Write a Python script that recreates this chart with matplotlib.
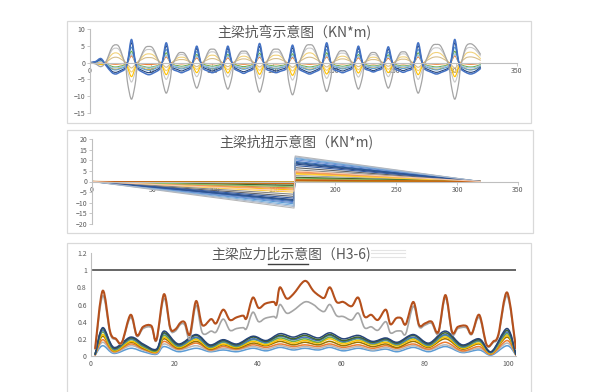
import numpy as np
import matplotlib
matplotlib.use("Agg")
import matplotlib.pyplot as plt
from matplotlib.path import Path
from matplotlib.patches import PathPatch, Rectangle
from matplotlib.lines import Line2D

plt.rcParams["font.family"] = ["Noto Sans CJK SC", "DejaVu Sans"]

# ---------------- bending moment (KN*m) ----------------
# stations: start, then per support [S-5, S-3, S, S+3, S+5] + span [Q1, M, Q2]
bend_x = [0, 4.5, 9, 13, 17.8, 21, 24.2,
          29, 31, 34, 37, 39, 44.5, 48.25, 52,
          57.5, 59.5, 62.5, 65.5, 67.5, 72, 75, 78,
          82.5, 84.5, 87.5, 90.5, 92.5, 97.2, 100.25, 103.3,
          108, 110, 113, 116, 118, 122.8, 126, 129.2,
          134, 136, 139, 142, 144, 149.1, 152.5, 155.9,
          161, 163, 166, 169, 171, 176.4, 180, 183.6,
          189, 191, 194, 197, 199, 203.8, 207, 210.2,
          215, 217, 220, 223, 225, 229.4, 232.25, 235.1,
          239.5, 241.5, 244.5, 247.5, 249.5, 253.9, 256.75, 259.6,
          264, 266, 269, 272, 274, 280, 284, 288,
          294, 296, 299, 302, 304, 308, 312, 316, 320]

bend_gray = [0, -0.4, -1.2, 0.2, 4.4, 5.3, 4.4,
             -1.0, -6.5, -10.9, -6.5, -1.0, 4.0, 4.8, 4.0,
             -1.0, -5.5, -9.1, -5.5, -1.0, 2.5, 3.0, 2.5,
             -0.8, -4.6, -7.6, -4.6, -0.8, 3.4, 4.0, 3.4,
             -0.8, -4.8, -7.9, -4.8, -0.8, 2.9, 3.4, 2.9,
             -1.0, -5.3, -8.8, -5.3, -1.0, 3.4, 4.0, 3.4,
             -1.0, -5.8, -9.6, -5.8, -1.0, 4.5, 5.3, 4.5,
             -1.0, -5.2, -8.6, -5.2, -1.0, 3.0, 3.5, 3.0,
             -0.8, -4.8, -7.9, -4.8, -0.8, 2.5, 3.0, 2.5,
             -0.8, -4.6, -7.6, -4.6, -0.8, 2.7, 3.2, 2.7,
             -1.0, -5.5, -9.1, -5.5, -1.0, 4.6, 5.4, 4.6,
             -1.0, -6.5, -10.9, -6.5, -1.0, 4.6, 5.6, 4.6, 2.5]

bend_ltgray = [0, -0.2, -0.6, 0.2, 3.6, 4.3, 3.6,
               -0.4, -2.9, -5.8, -2.9, -0.4, 3.3, 3.9, 3.3,
               -0.4, -2.5, -5.0, -2.5, -0.4, 2.0, 2.4, 2.0,
               -0.3, -2.1, -4.2, -2.1, -0.3, 2.7, 3.2, 2.7,
               -0.3, -2.2, -4.3, -2.2, -0.3, 2.4, 2.8, 2.4,
               -0.4, -2.4, -4.8, -2.4, -0.4, 2.7, 3.2, 2.7,
               -0.4, -2.6, -5.2, -2.6, -0.4, 3.6, 4.3, 3.6,
               -0.4, -2.4, -4.7, -2.4, -0.4, 2.4, 2.8, 2.4,
               -0.3, -2.2, -4.3, -2.2, -0.3, 2.0, 2.4, 2.0,
               -0.3, -2.1, -4.2, -2.1, -0.3, 2.2, 2.6, 2.2,
               -0.4, -2.5, -5.0, -2.5, -0.4, 3.7, 4.4, 3.7,
               -0.4, -2.9, -5.8, -2.9, -0.4, 3.8, 4.5, 3.8, 2.0]

bend_gold = [0, 0, -0.3, 0.2, 2.4, 2.9, 2.4,
             0.1, -1.1, -2.8, -1.1, 0.1, 2.2, 2.6, 2.2,
             0.1, -1.0, -2.4, -1.0, 0.1, 1.4, 1.6, 1.4,
             0.1, -0.8, -2.0, -0.8, 0.1, 1.9, 2.2, 1.9,
             0.1, -0.8, -2.1, -0.8, 0.1, 1.6, 1.9, 1.6,
             0.1, -0.9, -2.3, -0.9, 0.1, 1.9, 2.2, 1.9,
             0.1, -1.0, -2.5, -1.0, 0.1, 2.4, 2.9, 2.4,
             0.1, -0.9, -2.3, -0.9, 0.1, 1.6, 1.9, 1.6,
             0.1, -0.8, -2.1, -0.8, 0.1, 1.4, 1.6, 1.4,
             0.1, -0.8, -2.0, -0.8, 0.1, 1.5, 1.7, 1.5,
             0.1, -1.0, -2.4, -1.0, 0.1, 2.5, 3.0, 2.5,
             0.1, -1.1, -2.8, -1.1, 0.1, 2.6, 3.1, 2.6, 1.2]

bend_tan = [0, 0, -0.2, 0.1, 1.3, 1.6, 1.3,
            0.1, -0.6, -1.6, -0.6, 0.1, 1.3, 1.5, 1.3,
            0.1, -0.5, -1.4, -0.5, 0.1, 0.8, 0.9, 0.8,
            0.1, -0.5, -1.2, -0.5, 0.1, 1.0, 1.2, 1.0,
            0.1, -0.5, -1.2, -0.5, 0.1, 0.9, 1.1, 0.9,
            0.1, -0.5, -1.3, -0.5, 0.1, 1.0, 1.2, 1.0,
            0.1, -0.6, -1.4, -0.6, 0.1, 1.3, 1.6, 1.3,
            0.1, -0.5, -1.3, -0.5, 0.1, 0.9, 1.1, 0.9,
            0.1, -0.5, -1.2, -0.5, 0.1, 0.8, 0.9, 0.8,
            0.1, -0.4, -1.1, -0.4, 0.1, 0.9, 1.0, 0.9,
            0.1, -0.6, -1.4, -0.6, 0.1, 1.4, 1.7, 1.4,
            0.1, -0.6, -1.6, -0.6, 0.1, 1.4, 1.7, 1.4, 0.7]

bend_yellow = [0, -0.2, -0.6, -0.6, -1.7, -2.0, -1.7,
               -0.5, -1.7, -4.2, -1.7, -0.5, -1.8, -2.1, -1.8,
               -0.5, -1.4, -3.6, -1.4, -0.5, -1.4, -1.6, -1.4,
               -0.4, -1.2, -3.0, -1.2, -0.4, -1.5, -1.8, -1.5,
               -0.4, -1.2, -3.1, -1.2, -0.4, -1.4, -1.7, -1.4,
               -0.5, -1.4, -3.5, -1.4, -0.5, -1.5, -1.8, -1.5,
               -0.5, -1.5, -3.8, -1.5, -0.5, -1.7, -2.0, -1.7,
               -0.5, -1.4, -3.4, -1.4, -0.5, -1.4, -1.7, -1.4,
               -0.4, -1.2, -3.1, -1.2, -0.4, -1.4, -1.6, -1.4,
               -0.4, -1.2, -3.0, -1.2, -0.4, -1.4, -1.6, -1.4,
               -0.5, -1.4, -3.6, -1.4, -0.5, -1.7, -2.0, -1.7,
               -0.5, -1.7, -4.2, -1.7, -0.5, -1.8, -2.1, -1.8, -1.0]

bend_orange = [0, 0.1, 0.3, -0.1, -0.4, -0.5, -0.4,
               -0.2, 0.2, 2.0, 0.2, -0.2, -0.5, -0.6, -0.5,
               -0.2, 0.2, 1.7, 0.2, -0.2, -0.3, -0.4, -0.3,
               -0.2, 0.1, 1.4, 0.1, -0.2, -0.3, -0.4, -0.3,
               -0.2, 0.1, 1.4, 0.1, -0.2, -0.4, -0.5, -0.4,
               -0.2, 0.2, 1.6, 0.2, -0.2, -0.3, -0.4, -0.3,
               -0.2, 0.1, 1.5, 0.1, -0.2, -0.4, -0.5, -0.4,
               -0.2, 0.2, 1.7, 0.2, -0.2, -0.3, -0.4, -0.3,
               -0.2, 0.1, 1.4, 0.1, -0.2, -0.3, -0.4, -0.3,
               -0.2, 0.1, 1.3, 0.1, -0.2, -0.3, -0.4, -0.3,
               -0.2, 0.2, 1.7, 0.2, -0.2, -0.4, -0.5, -0.4,
               -0.2, 0.2, 2.0, 0.2, -0.2, -0.4, -0.5, -0.4, -0.2]

bend_green = [0, 0.1, 0.5, -0.3, -1.1, -1.3, -1.1,
              -0.6, 0.3, 3.4, 0.3, -0.6, -1.2, -1.4, -1.2,
              -0.6, 0.3, 2.9, 0.3, -0.6, -0.9, -1.1, -0.9,
              -0.5, 0.2, 2.4, 0.2, -0.5, -0.9, -1.1, -0.9,
              -0.5, 0.2, 2.4, 0.2, -0.5, -1.0, -1.2, -1.0,
              -0.6, 0.3, 2.8, 0.3, -0.6, -0.9, -1.1, -0.9,
              -0.6, 0.2, 2.6, 0.2, -0.6, -1.1, -1.3, -1.1,
              -0.6, 0.3, 2.9, 0.3, -0.6, -0.9, -1.1, -0.9,
              -0.5, 0.2, 2.4, 0.2, -0.5, -0.9, -1.0, -0.9,
              -0.5, 0.2, 2.3, 0.2, -0.5, -0.9, -1.0, -0.9,
              -0.6, 0.3, 2.9, 0.3, -0.6, -1.1, -1.3, -1.1,
              -0.6, 0.3, 3.4, 0.3, -0.6, -1.1, -1.3, -1.1, -0.6]

bend_paleblue = [0, 0.1, 0.4, -0.4, -1.4, -1.6, -1.4,
                 -0.8, 0.2, 2.6, 0.2, -0.8, -1.4, -1.7, -1.4,
                 -0.7, 0.2, 2.2, 0.2, -0.7, -1.2, -1.4, -1.2,
                 -0.7, 0.2, 1.9, 0.2, -0.7, -1.2, -1.4, -1.2,
                 -0.7, 0.2, 1.9, 0.2, -0.7, -1.3, -1.5, -1.3,
                 -0.7, 0.2, 2.1, 0.2, -0.7, -1.2, -1.4, -1.2,
                 -0.7, 0.2, 2.0, 0.2, -0.7, -1.4, -1.6, -1.4,
                 -0.7, 0.2, 2.2, 0.2, -0.7, -1.2, -1.4, -1.2,
                 -0.7, 0.2, 1.9, 0.2, -0.7, -1.1, -1.3, -1.1,
                 -0.7, 0.2, 1.8, 0.2, -0.7, -1.1, -1.3, -1.1,
                 -0.7, 0.2, 2.2, 0.2, -0.7, -1.4, -1.6, -1.4,
                 -0.8, 0.2, 2.6, 0.2, -0.8, -1.4, -1.6, -1.4, -0.8]

bend_ltblue = [0, 0.2, 0.7, -0.5, -1.9, -2.2, -1.9,
               -1.1, 0.4, 4.6, 0.4, -1.1, -2.0, -2.3, -2.0,
               -1.0, 0.4, 3.9, 0.4, -1.0, -1.6, -1.9, -1.6,
               -1.0, 0.3, 3.3, 0.3, -1.0, -1.6, -1.9, -1.6,
               -1.0, 0.3, 3.3, 0.3, -1.0, -1.7, -2.0, -1.7,
               -1.0, 0.4, 3.8, 0.4, -1.0, -1.6, -1.9, -1.6,
               -1.0, 0.3, 3.5, 0.3, -1.0, -1.9, -2.2, -1.9,
               -1.0, 0.4, 3.9, 0.4, -1.0, -1.6, -1.9, -1.6,
               -1.0, 0.3, 3.3, 0.3, -1.0, -1.5, -1.8, -1.5,
               -1.0, 0.3, 3.1, 0.3, -1.0, -1.5, -1.8, -1.5,
               -1.0, 0.4, 3.9, 0.4, -1.0, -1.9, -2.2, -1.9,
               -1.1, 0.4, 4.6, 0.4, -1.1, -1.9, -2.2, -1.9, -1.1]

bend_navy = [0, 0.2, 0.9, -0.6, -2.5, -2.9, -2.5,
             -1.5, 0.5, 5.9, 0.5, -1.5, -2.6, -3.0, -2.6,
             -1.4, 0.5, 5.0, 0.5, -1.4, -2.1, -2.5, -2.1,
             -1.3, 0.4, 4.2, 0.4, -1.3, -2.1, -2.5, -2.1,
             -1.3, 0.4, 4.2, 0.4, -1.3, -2.3, -2.7, -2.3,
             -1.4, 0.5, 4.8, 0.5, -1.4, -2.1, -2.5, -2.1,
             -1.4, 0.4, 4.4, 0.4, -1.4, -2.5, -2.9, -2.5,
             -1.4, 0.5, 5.0, 0.5, -1.4, -2.1, -2.5, -2.1,
             -1.3, 0.4, 4.2, 0.4, -1.3, -2.0, -2.4, -2.0,
             -1.3, 0.4, 4.0, 0.4, -1.3, -2.0, -2.4, -2.0,
             -1.4, 0.5, 5.0, 0.5, -1.4, -2.5, -2.9, -2.5,
             -1.5, 0.5, 5.9, 0.5, -1.5, -2.5, -2.9, -2.5, -1.4]

bend_blue = [0, 0.3, 1.2, -0.8, -2.9, -3.4, -2.9,
             -1.8, 0.6, 6.9, 0.6, -1.8, -3.1, -3.6, -3.1,
             -1.8, 0.6, 5.9, 0.6, -1.8, -2.6, -3.0, -2.6,
             -1.7, 0.5, 4.9, 0.5, -1.7, -2.6, -3.0, -2.6,
             -1.7, 0.5, 4.9, 0.5, -1.7, -2.7, -3.2, -2.7,
             -1.8, 0.6, 5.7, 0.6, -1.8, -2.6, -3.0, -2.6,
             -1.8, 0.5, 5.2, 0.5, -1.8, -2.9, -3.4, -2.9,
             -1.8, 0.6, 5.9, 0.6, -1.8, -2.6, -3.0, -2.6,
             -1.7, 0.5, 4.9, 0.5, -1.7, -2.4, -2.8, -2.4,
             -1.7, 0.5, 4.7, 0.5, -1.7, -2.5, -2.9, -2.5,
             -1.8, 0.6, 5.9, 0.6, -1.8, -2.9, -3.4, -2.9,
             -1.8, 0.6, 6.9, 0.6, -1.8, -2.9, -3.4, -2.9, -1.8]

bend_series = [(bend_ltgray, "#C9C9C9", 0.8), (bend_gold, "#F2D27A", 0.8),
               (bend_tan, "#D6BE8A", 0.8), (bend_yellow, "#FFC000", 0.8),
               (bend_orange, "#ED7D31", 0.8), (bend_green, "#70AD47", 0.8),
               (bend_paleblue, "#9DC3E6", 0.8), (bend_ltblue, "#5B9BD5", 0.8),
               (bend_navy, "#264478", 0.8), (bend_blue, "#4472C4", 1.1),
               (bend_gray, "#A5A5A5", 0.9)]

# ---------------- torsion (KN*m) ----------------
tors_x = [0, 166, 167, 319]
tors_left = [9.5, 3.0, 2.0, 4.0, 10.5, 1.2, 8.5, 0.6, 7.0, 0.3, 9.0, 1.8, 10.0,
             3.5, 12.5, 5.0, 11.2, 2.5, 7.8, 1.0, 6.0, 0.2, 8.8, 0.5, 11.8, 4.5]
tors_right = [9.5, 4.6, 2.8, 3.8, 10.8, 1.6, 8.2, 0.4, 6.5, 0.3, 9.0, 2.0, 10.2,
              4.2, 12.0, 3.5, 11.2, 1.2, 7.5, 0.8, 5.5, 0.5, 8.6, 0.6, 11.6, 5.0]
tors_colors = ["#4472C4", "#ED7D31", "#A5A5A5", "#FFC000", "#5B9BD5", "#70AD47",
               "#264478", "#9E480E", "#636363", "#997300", "#255E91", "#43682B",
               "#698ED0", "#F1975A", "#B7B7B7", "#FFCD33", "#7CAFDD", "#8CC168",
               "#335AA1", "#D26012", "#848484", "#CC9A00", "#2F5597", "#C55A11",
               "#ADB9CA", "#F8CBAD"]

# ---------------- stress ratio ----------------
ratio_x = [1, 2.8, 4.6, 6, 7.4, 9.5, 11, 12.5, 14.5, 15.7, 17.5, 19, 20.2, 21.5,
           22.5, 23.7, 25.2, 26.7, 28.8, 30, 31.7, 33.3, 34.9, 36.5, 37.3, 38.8,
           40.2, 41.8, 43.8, 44.5, 45.3, 46.9, 48.5, 51.3, 53.3, 54.8, 56, 57.3,
           58.9, 60.5, 62.5, 64.1, 65.6, 67.2, 68.8, 70.7, 71.8, 73.2, 74.4, 75.5,
           77.3, 78.7, 80.1, 81.7, 83.3, 85, 86.6, 88, 90, 91.3, 93.1, 94.9, 96.5,
           97.7, 99.8, 101.9]
ratio_brown = [0.09, 0.76, 0.28, 0.20, 0.16, 0.48, 0.24, 0.34, 0.35, 0.19, 0.72,
               0.33, 0.31, 0.39, 0.39, 0.25, 0.64, 0.36, 0.43, 0.38, 0.54, 0.42,
               0.45, 0.47, 0.44, 0.68, 0.56, 0.61, 0.63, 0.60, 0.80, 0.67, 0.72,
               0.875, 0.76, 0.70, 0.68, 0.80, 0.63, 0.63, 0.58, 0.68, 0.46, 0.48,
               0.42, 0.54, 0.37, 0.44, 0.44, 0.37, 0.63, 0.36, 0.38, 0.40, 0.28,
               0.71, 0.28, 0.34, 0.35, 0.26, 0.48, 0.13, 0.17, 0.25, 0.74, 0.09]
ratio_gray = [0.08, 0.70, 0.26, 0.19, 0.15, 0.45, 0.23, 0.32, 0.33, 0.18, 0.67,
              0.31, 0.29, 0.37, 0.36, 0.20, 0.59, 0.27, 0.29, 0.28, 0.43, 0.30,
              0.32, 0.33, 0.32, 0.51, 0.40, 0.44, 0.46, 0.45, 0.60, 0.50, 0.53,
              0.63, 0.60, 0.54, 0.52, 0.60, 0.47, 0.46, 0.42, 0.50, 0.33, 0.34,
              0.30, 0.40, 0.27, 0.29, 0.29, 0.26, 0.58, 0.34, 0.36, 0.38, 0.26,
              0.68, 0.26, 0.32, 0.33, 0.25, 0.45, 0.12, 0.16, 0.23, 0.70, 0.08]

low_x = [1, 2.8, 5.5, 9.5, 12.5, 15.7, 17.5, 21, 25.2, 28.5, 31.7, 35, 38.8, 42,
         45.3, 48.5, 51.3, 54.5, 57.3, 60.5, 64.1, 67.5, 70.7, 73.5, 77.3, 81, 85,
         89, 93.1, 96, 99.8, 101.9]
low_navy = [0.02, 0.33, 0.10, 0.22, 0.14, 0.08, 0.29, 0.14, 0.25, 0.13, 0.19, 0.14,
            0.23, 0.18, 0.26, 0.22, 0.26, 0.21, 0.27, 0.20, 0.24, 0.17, 0.21, 0.16,
            0.25, 0.15, 0.29, 0.13, 0.20, 0.05, 0.32, 0.02]
low_dkgreen = [0.02, 0.32, 0.09, 0.21, 0.13, 0.07, 0.27, 0.13, 0.24, 0.12, 0.18, 0.13,
               0.22, 0.17, 0.24, 0.20, 0.24, 0.19, 0.25, 0.18, 0.22, 0.16, 0.20, 0.15,
               0.24, 0.14, 0.27, 0.12, 0.19, 0.05, 0.30, 0.02]
low_blue = [0.02, 0.30, 0.08, 0.20, 0.12, 0.07, 0.26, 0.12, 0.22, 0.11, 0.17, 0.12,
            0.20, 0.16, 0.23, 0.19, 0.22, 0.18, 0.24, 0.17, 0.21, 0.15, 0.19, 0.14,
            0.22, 0.13, 0.25, 0.11, 0.18, 0.04, 0.28, 0.02]
low_green = [0.02, 0.28, 0.07, 0.19, 0.11, 0.06, 0.24, 0.11, 0.21, 0.10, 0.16, 0.11,
             0.19, 0.15, 0.21, 0.17, 0.20, 0.16, 0.22, 0.16, 0.20, 0.14, 0.18, 0.13,
             0.21, 0.12, 0.24, 0.10, 0.17, 0.04, 0.26, 0.02]
low_yellow = [0.02, 0.25, 0.06, 0.17, 0.10, 0.05, 0.22, 0.10, 0.19, 0.09, 0.14, 0.10,
              0.17, 0.13, 0.19, 0.15, 0.18, 0.15, 0.20, 0.14, 0.18, 0.13, 0.16, 0.12,
              0.19, 0.11, 0.22, 0.09, 0.15, 0.03, 0.24, 0.02]
low_olive = [0.02, 0.23, 0.06, 0.16, 0.09, 0.05, 0.20, 0.09, 0.17, 0.08, 0.13, 0.09,
             0.15, 0.12, 0.17, 0.13, 0.16, 0.13, 0.17, 0.12, 0.16, 0.11, 0.14, 0.10,
             0.17, 0.10, 0.20, 0.08, 0.14, 0.03, 0.22, 0.02]
low_orange = [0.01, 0.19, 0.05, 0.14, 0.08, 0.04, 0.17, 0.08, 0.15, 0.07, 0.11, 0.08,
              0.13, 0.10, 0.14, 0.11, 0.13, 0.11, 0.14, 0.10, 0.13, 0.09, 0.12, 0.09,
              0.14, 0.08, 0.16, 0.06, 0.11, 0.02, 0.18, 0.01]
low_ltgray = [0.01, 0.16, 0.04, 0.12, 0.07, 0.03, 0.14, 0.07, 0.12, 0.06, 0.09, 0.07,
              0.11, 0.08, 0.12, 0.09, 0.11, 0.09, 0.12, 0.08, 0.11, 0.07, 0.10, 0.07,
              0.12, 0.07, 0.13, 0.05, 0.09, 0.02, 0.15, 0.01]
low_ltblue = [0.01, 0.12, 0.03, 0.09, 0.05, 0.02, 0.11, 0.05, 0.09, 0.05, 0.07, 0.05,
              0.09, 0.06, 0.10, 0.07, 0.09, 0.07, 0.10, 0.06, 0.09, 0.06, 0.08, 0.05,
              0.10, 0.05, 0.11, 0.04, 0.07, 0.01, 0.12, 0.01]
low_series = [(low_ltblue, "#5B9BD5"), (low_ltgray, "#B7B7B7"), (low_orange, "#ED7D31"),
              (low_olive, "#997300"), (low_yellow, "#FFC000"), (low_green, "#70AD47"),
              (low_blue, "#4472C4"), (low_dkgreen, "#43682B"), (low_navy, "#264478")]

limit_x = [0.5, 102]
limit_y = [1, 1]

TXT = "#595959"
AX = "#BFBFBF"
FRAME = "#D9D9D9"


def smooth_line(ax, x, y, color, lw, z=2):
    """Draw a smoothed (Catmull-Rom style Bezier) line through the points."""
    p = np.column_stack([np.asarray(x, float), np.asarray(y, float)])
    n = len(p)
    verts = [p[0]]
    codes = [Path.MOVETO]
    for i in range(n - 1):
        p0 = p[i - 1] if i > 0 else p[i]
        p1, p2 = p[i], p[i + 1]
        p3 = p[i + 2] if i + 2 < n else p[i + 1]
        verts += [p1 + (p2 - p0) / 6.0, p2 - (p3 - p1) / 6.0, p2]
        codes += [Path.CURVE4] * 3
    ax.add_patch(PathPatch(Path(verts, codes), facecolor="none", edgecolor=color,
                           lw=lw, zorder=z, capstyle="round", joinstyle="round"))


def style_axes(ax):
    ax.set_facecolor("none")
    for s in ("top", "right"):
        ax.spines[s].set_visible(False)
    for s in ("left", "bottom"):
        ax.spines[s].set_color(AX)
        ax.spines[s].set_linewidth(0.8)
    ax.tick_params(axis="both", labelsize=5, labelcolor=TXT, color=AX,
                   length=2, width=0.6, pad=1.5)


fig = plt.figure(figsize=(6.0, 3.92), dpi=100)
fig.patch.set_facecolor("white")

W, H = 600.0, 392.0


def frame(x0, y0, x1, y1):
    fig.add_artist(Rectangle((x0 / W, 1 - y1 / H), (x1 - x0) / W, (y1 - y0) / H,
                             transform=fig.transFigure, facecolor="white",
                             edgecolor=FRAME, lw=0.9, zorder=0))


frame(67, 21, 531, 123)
frame(67, 130, 533, 233)
frame(67, 243, 531, 420)

# panel 1: bending
ax1 = fig.add_axes([90 / W, 1 - 113 / H, 427 / W, 84 / H])
style_axes(ax1)
ax1.set_xlim(0, 350)
ax1.set_ylim(-15, 10)
ax1.spines["bottom"].set_position(("data", 0))
ax1.set_xticks(np.arange(0, 351, 50))
ax1.set_yticks(np.arange(-15, 11, 5))
for ys, col, lw in bend_series:
    smooth_line(ax1, bend_x, ys, col, lw)
fig.text(294 / W, 1 - 33 / H, "主梁抗弯示意图（KN*m)", ha="center", va="center",
         fontsize=10, color=TXT)

# panel 2: torsion
ax2 = fig.add_axes([92 / W, 1 - 224 / H, 426 / W, 85 / H])
style_axes(ax2)
ax2.set_xlim(0, 350)
ax2.set_ylim(-20, 20)
ax2.spines["bottom"].set_position(("data", 0))
ax2.set_xticks(np.arange(0, 351, 50))
ax2.set_yticks(np.arange(-20, 21, 5))
for L, R, col in zip(tors_left, tors_right, tors_colors):
    ax2.plot(tors_x, [0, -L, R, 0], color=col, lw=0.8)
fig.text(296 / W, 1 - 142 / H, "主梁抗扭示意图（KN*m)", ha="center", va="center",
         fontsize=10, color=TXT)

# panel 3: stress ratio
ax3 = fig.add_axes([91 / W, 1 - 356 / H, 425.3 / W, 103 / H])
style_axes(ax3)
ax3.set_xlim(0, 102)
ax3.set_ylim(0, 1.2)
ax3.set_xticks(np.arange(0, 101, 20))
ax3.set_yticks([0, 0.2, 0.4, 0.6, 0.8, 1.0, 1.2])
ax3.set_yticklabels(["0", "0.2", "0.4", "0.6", "0.8", "1", "1.2"])
ax3.tick_params(axis="both", length=0, pad=3)
ax3.plot(limit_x, limit_y, color="#595959", lw=1.3)
for ys, col in low_series:
    smooth_line(ax3, low_x, ys, col, 1.1)
smooth_line(ax3, ratio_x, ratio_gray, "#A5A5A5", 1.2)
smooth_line(ax3, ratio_x, ratio_brown, "#B5501C", 1.5)
fig.text(291.5 / W, 1 - 254 / H, "主梁应力比示意图（H3-6)", ha="center", va="center",
         fontsize=10, color=TXT)
fig.add_artist(Line2D([268 / W, 308 / W], [1 - 264 / H, 1 - 264 / H],
                      color="#404040", lw=1.0, transform=fig.transFigure))
for yy in (250, 253.5, 257):
    fig.add_artist(Line2D([371 / W, 405 / W], [1 - yy / H, 1 - yy / H],
                          color="#E4E4E4", lw=0.8, transform=fig.transFigure))

fig.savefig("out.png", dpi=100, facecolor="white")
